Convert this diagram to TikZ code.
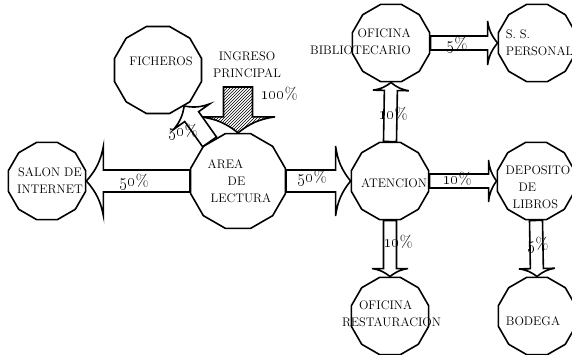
\documentclass[tikz,border=0pt]{standalone}
\usetikzlibrary{calc,shapes.geometric,patterns,backgrounds}
\tikzset{
    estacion/.style={draw, regular polygon, regular polygon sides=12, minimum size=80pt, inner sep=0pt, line width=1.6pt},
    texto/.style={font=\fontsize{12.4}{17}\selectfont, inner sep=0pt},
    pct/.style={font=\fontsize{16.5}{18}\selectfont, inner sep=0pt},
    flecha/.style={draw, fill=white, line width=1.6pt, line join=miter}
}
% block arrow: [style]{from}{to}{half shaft}{half head}{head length}
\newcommand{\bloque}[6][]{%
    \coordinate (fa) at (#2);
    \coordinate (fb) at (#3);
    \coordinate (fh) at ($(fb)!#6pt!(fa)$);
    \draw[flecha,#1] ($(fa)!#4pt!90:(fb)$) -- ($(fh)!#4pt!90:(fb)$) -- ($(fh)!#5pt!90:(fb)$)
        to[bend right=15] (fb) to[bend right=15] ($(fh)!#5pt!-90:(fb)$)
        -- ($(fh)!#4pt!-90:(fb)$) -- ($(fa)!#4pt!-90:(fb)$) -- cycle;
}

\begin{document}
\begin{tikzpicture}[x=1pt, y=-1pt]
    \useasboundingbox (0,0) rectangle (572,354);

    % --- Estaciones ---
    \node[estacion, minimum size=90pt, label={[texto, xshift=3pt, yshift=9pt]center:FICHEROS}] (fic) at (158,70) {};
    \node[estacion, minimum size=98pt, label={[texto, align=left, xshift=1.5pt]center:{AREA\\\hspace*{20pt}DE\\\hspace*{3pt}LECTURA}}] (lec) at (238,181) {};
    \node[estacion, label={[texto, align=center, xshift=3pt]center:{SALON DE\\INTERNET}}] (sal) at (47,181) {};
    \node[estacion, label={[texto, xshift=4pt, yshift=-2pt]center:ATENCION}] (ate) at (390,181) {};
    \node[estacion, label={[texto, align=left, xshift=2pt, yshift=-6pt]center:{DEPOSITO\\\hspace*{13pt}DE\\\hspace*{7pt}LIBROS}}] (dep) at (536,181) {};
    \node[estacion, label={[texto, align=right, xshift=-30.5pt, yshift=1.5pt]center:{OFICINA\\BIBLIOTECARIO}}] (bib) at (391,43) {};
    \node[estacion, label={[texto, align=left, xshift=2.5pt]center:{S. S.\\PERSONAL}}] (ss) at (537,43) {};
    \node[estacion, label={[texto, align=left, xshift=1.5pt, yshift=2.5pt]center:{\hspace*{17pt}OFICINA\\RESTAURACION}}] (res) at (390,316) {};
    \node[estacion, label={[texto, xshift=-4pt, yshift=-5pt]center:BODEGA}] (bod) at (537,316) {};

    \node[texto, align=center] (ing) at (247,65) {INGRESO\\PRINCIPAL};
    \coordinate (entrada) at (238,87);

    % --- Flechas ---
    \begin{scope}[on background layer]
        \bloque[preaction={fill=white}, pattern=north east lines]{entrada}{lec.north}{14.5}{37}{16}
        \bloque{lec.126}{fic.-54}{8.5}{22}{13}
        \bloque{lec.west}{sal.east}{11}{35}{17}
        \bloque{lec.east}{ate.west}{11}{35}{15}
        \bloque{ate.east}{dep.west}{7}{21}{8}
        \bloque{bib.east}{ss.west}{7}{22}{10}
        \bloque{ate.north}{bib.south}{6.5}{18}{8}
        \bloque{ate.south}{res.north}{6.5}{18}{8}
        \bloque{dep.south}{bod.north}{6.5}{18}{8}
    \end{scope}

    % --- Porcentajes ---
    \node[pct] (p50d) at (183,132) {\oldstylenums{50}\%};
    \node[pct] (p100) at (279,94) {\oldstylenums{100}\%};
    \node[pct] (p50i) at (134,182) {\oldstylenums{50}\%};
    \node[pct] (p50c) at (312,178) {\oldstylenums{50}\%};
    \node[pct] (p10d) at (457,179) {\oldstylenums{10}\%};
    \node[pct] (p10a) at (393,114) {\oldstylenums{10}\%};
    \node[pct] (p10b) at (398,242) {\oldstylenums{10}\%};
    \node[pct] (p5b) at (538,245) {\oldstylenums{5}\%};
    \node[pct] (p5a) at (457,45) {\oldstylenums{5}\%};
\end{tikzpicture}
\end{document}
